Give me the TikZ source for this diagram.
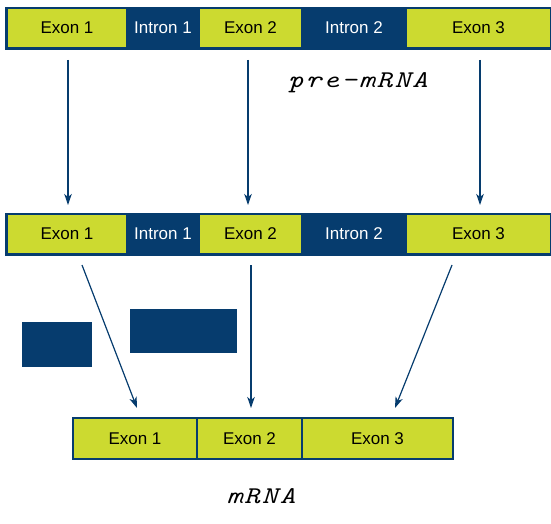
\documentclass[tikz,border=0pt]{standalone}
\usepackage{fontspec}
\setmainfont{Liberation Sans}
\usetikzlibrary{arrows.meta}
\definecolor{navy}{HTML}{063C6E}
\definecolor{lime}{HTML}{CCDA30}
% wide, slightly spaced lettering for the strand labels
\newcommand\lsp{\kern1.6pt}
\newcommand\widetext[1]{\scalebox{1.25}[1]{#1}}
\begin{document}
\begin{tikzpicture}[x=1pt,y=-1pt,
  bar/.style={fill=navy, draw=none, inner sep=0pt, minimum height=43pt},
  exon/.style={fill=lime, inner sep=0pt, minimum height=38pt, text=black,
    font=\fontsize{17}{20}\selectfont},
  intron/.style={inner sep=0pt, text=white, font=\fontsize{17}{20}\selectfont},
  mexon/.style={fill=lime, draw=navy, line width=2pt, inner sep=0pt,
    minimum height=41pt, text=black, font=\fontsize{17}{20}\selectfont},
  block/.style={fill=navy, draw=none, inner sep=0pt},
  label/.style={inner sep=0pt, text=black,
    font=\fontsize{24}{28}\ttfamily\itshape\addfontfeature{FakeBold=1.2}},
  arr/.style={draw=navy, line width=1.2pt,
    -{Stealth[length=11pt,width=7.5pt,inset=3pt]}}]
\useasboundingbox (0,0) rectangle (551,524);

% pre-mRNA strand
\node[bar, minimum width=546pt] (top) at (278,28.5) {};
\node[exon, minimum width=118pt] (t1) at (67,28) {Exon 1};
\node[intron] (ti1) at (163,28) {Intron 1};
\node[exon, minimum width=101pt] (t2) at (250.5,28) {Exon 2};
\node[intron] (ti2) at (354,28) {Intron 2};
\node[exon, minimum width=143pt] (t3) at (478.5,28) {Exon 3};
\node[label] (pre) at (358,83) {\widetext{p\lsp r\lsp e\lsp -\lsp m\lsp R\lsp N\lsp A}};

% second strand
\node[bar, minimum width=546pt] (mid) at (278,234.5) {};
\node[exon, minimum width=118pt] (m1) at (67,234) {Exon 1};
\node[intron] (mi1) at (163,234) {Intron 1};
\node[exon, minimum width=101pt] (m2) at (250.5,234) {Exon 2};
\node[intron] (mi2) at (354,234) {Intron 2};
\node[exon, minimum width=143pt] (m3) at (478.5,234) {Exon 3};

% removed intron pieces
\node[block, minimum width=70pt, minimum height=45pt] (b1) at (57,344.5) {};
\node[block, minimum width=107pt, minimum height=44pt] (b2) at (183.5,331) {};

% mature mRNA
\node[mexon, minimum width=124pt] (r1) at (135,438.5) {Exon 1};
\node[mexon, minimum width=105pt] (r2) at (249.5,438.5) {Exon 2};
\node[mexon, minimum width=151pt] (r3) at (377.5,438.5) {Exon 3};
\node[label] (mr) at (261,496) {\widetext{m\lsp R\lsp N\lsp A}};

% arrow end points
\coordinate (a1s) at (68,60);   \coordinate (a1e) at (68,205);
\coordinate (a2s) at (248,60);  \coordinate (a2e) at (248,205);
\coordinate (a3s) at (480,60);  \coordinate (a3e) at (480,205);
\coordinate (c1s) at (82,265);  \coordinate (c1e) at (137,408);
\coordinate (c2s) at (251,265); \coordinate (c2e) at (251,408);
\coordinate (c3s) at (452,265); \coordinate (c3e) at (395,408);

\draw[arr] (a1s) -- (a1e);
\draw[arr] (a2s) -- (a2e);
\draw[arr] (a3s) -- (a3e);
\draw[arr] (c1s) -- (c1e);
\draw[arr] (c2s) -- (c2e);
\draw[arr] (c3s) -- (c3e);
\end{tikzpicture}
\end{document}
